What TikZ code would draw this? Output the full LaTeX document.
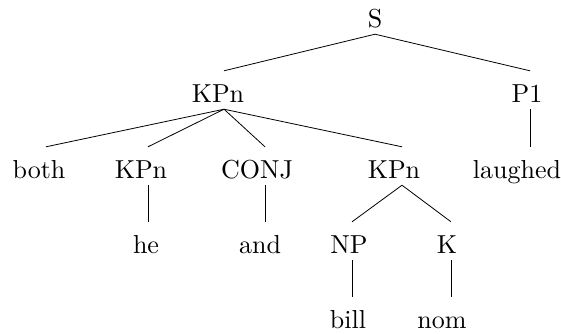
\documentclass[tikz,border=0pt]{standalone}
\usepackage{fontspec}
\newfontfamily\lmten{lmroman10-regular.otf}
\begin{document}
\begin{tikzpicture}[x=1pt,y=-1pt,
  lbl/.style={anchor=base, inner sep=0pt, text height=31pt, text depth=7pt,
    font=\lmten\fontsize{26}{30}\selectfont},
  edge/.style={line width=0.8pt}]
\useasboundingbox (0,0) rectangle (561,333);
% row 1
\node[lbl] (S) at (375,27) {S};
% row 2
\node[lbl] (kpA) at (218,102) {KPn};
\node[lbl] (P1) at (527,102) {P1};
% row 3
\node[lbl] (both) at (39,178) {both};
\node[lbl] (kpB) at (141,178) {KPn};
\node[lbl] (conj) at (257,178) {CONJ};
\node[lbl] (kpC) at (394,178) {KPn};
\node[lbl] (laughed) at (517,178) {laughed};
% row 4
\node[lbl] (he) at (146,253) {he};
\node[lbl] (and) at (260,253) {and};
\node[lbl] (NP) at (349,253) {NP};
\node[lbl] (K) at (447,253) {K};
% row 5
\node[lbl] (bill) at (348,328) {bill};
\node[lbl] (nom) at (442,328) {nom};
% connectors
\draw[edge] (S.south) -- ([xshift=6pt]kpA.north);
\draw[edge] (S.south) -- ([xshift=3pt]P1.north);
\draw[edge] ([xshift=6pt]kpA.south) -- ([xshift=7pt]both.north);
\draw[edge] ([xshift=6pt]kpA.south) -- ([xshift=7pt]kpB.north);
\draw[edge] ([xshift=6pt]kpA.south) -- ([xshift=8pt]conj.north);
\draw[edge] ([xshift=6pt]kpA.south) -- ([xshift=8pt]kpC.north);
\draw[edge] ([xshift=3pt]P1.south) -- ([xshift=13pt]laughed.north);
\draw[edge] ([xshift=7pt]kpB.south) -- ([xshift=2pt]he.north);
\draw[edge] ([xshift=8pt]conj.south) -- ([xshift=5pt]and.north);
\draw[edge] ([xshift=8pt]kpC.south) -- ([xshift=3pt]NP.north);
\draw[edge] ([xshift=8pt]kpC.south) -- ([xshift=4pt]K.north);
\draw[edge] ([xshift=3pt]NP.south) -- ([xshift=4pt]bill.north);
\draw[edge] ([xshift=4pt]K.south) -- ([xshift=9pt]nom.north);
\end{tikzpicture}
\end{document}
